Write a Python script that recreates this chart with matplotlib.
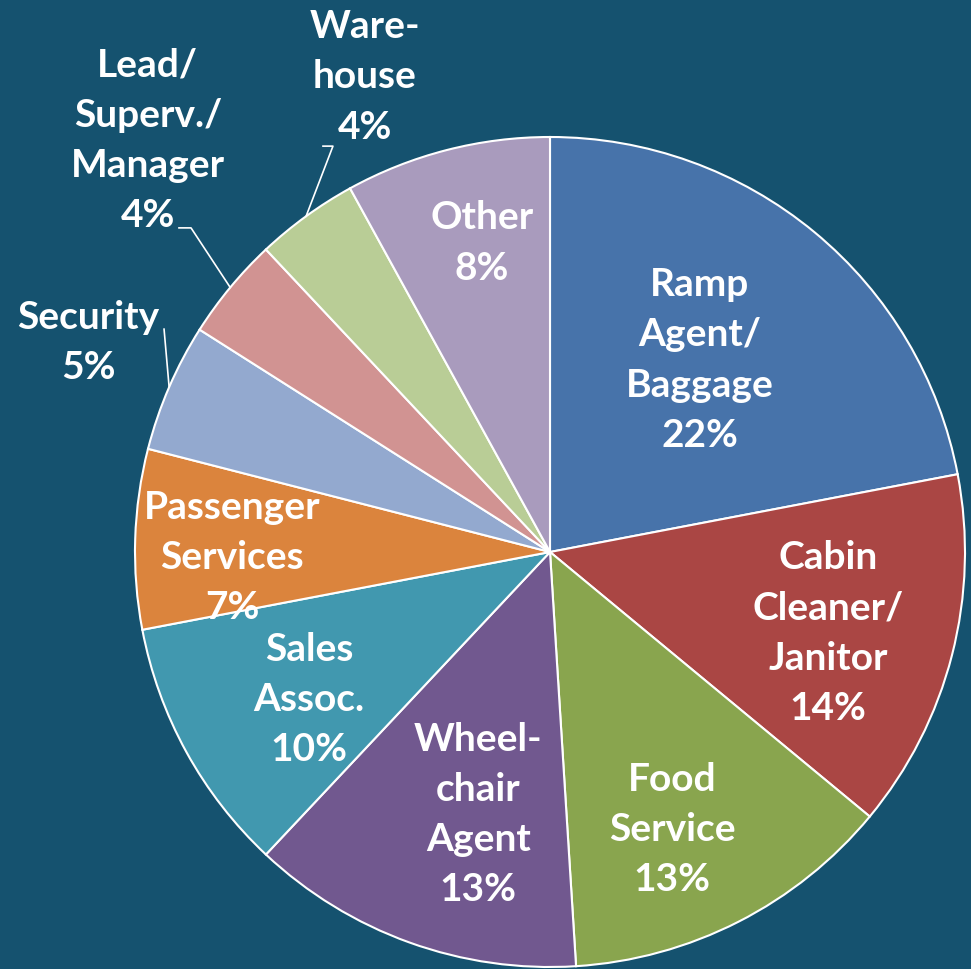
import numpy as np
import matplotlib
matplotlib.use("Agg")
import matplotlib.pyplot as plt

# data
labels = ["Ramp\nAgent/\nBaggage", "Cabin\nCleaner/\nJanitor", "Food\nService",
          "Wheel-\nchair\nAgent", "Sales\nAssoc.", "Passenger\nServices",
          "Security", "Lead/\nSuperv./\nManager", "Ware-\nhouse", "Other"]
shares = [22, 14, 13, 13, 10, 7, 5, 4, 4, 8]
colors = ["#4773AA", "#AA4644", "#89A54E", "#71588F", "#4198AF", "#DB843D",
          "#93A9CF", "#D19392", "#B9CD96", "#A99BBD"]

bg = "#15526F"

# label centres (pie-radius units) and leader line starts for outside labels
label_pos = [(0.361, 0.465), (0.670, -0.193), (0.294, -0.667), (-0.173, -0.631),
             (-0.581, -0.354), (-0.766, -0.010), (-1.113, 0.508), (-0.969, 0.995),
             (-0.446, 1.147), (-0.164, 0.747)]
leaders = {6: [(-0.930, 0.537)],
           7: [(-0.894, 0.781), (-0.865, 0.781)],
           8: [(-0.547, 0.978), (-0.523, 0.978)]}

fig = plt.figure(figsize=(9.71, 9.70), dpi=100, facecolor=bg)
ax = fig.add_axes([135 / 971, 2 / 970, 830 / 971, 830 / 970])
ax.set_facecolor(bg)

wedges, _ = ax.pie(shares, colors=colors, startangle=90, counterclock=False,
                   radius=1.0, wedgeprops=dict(edgecolor="white", linewidth=1.5))
ax.set_xlim(-1, 1)
ax.set_ylim(-1, 1)
ax.set_aspect("equal")
ax.axis("off")

for i, (w, lab, v) in enumerate(zip(wedges, labels, shares)):
    x, y = label_pos[i]
    ax.text(x, y, f"{lab}\n{v}%", ha="center", va="center", color="white",
            fontsize=28, fontweight="bold", family="Lato", linespacing=1.52)
    if i in leaders:
        mid = np.deg2rad((w.theta1 + w.theta2) / 2)
        pts = leaders[i] + [(np.cos(mid), np.sin(mid))]
        ax.plot([p[0] for p in pts], [p[1] for p in pts], color="white",
                lw=1.2, clip_on=False)

fig.savefig("out.png", dpi=100, facecolor=bg)
